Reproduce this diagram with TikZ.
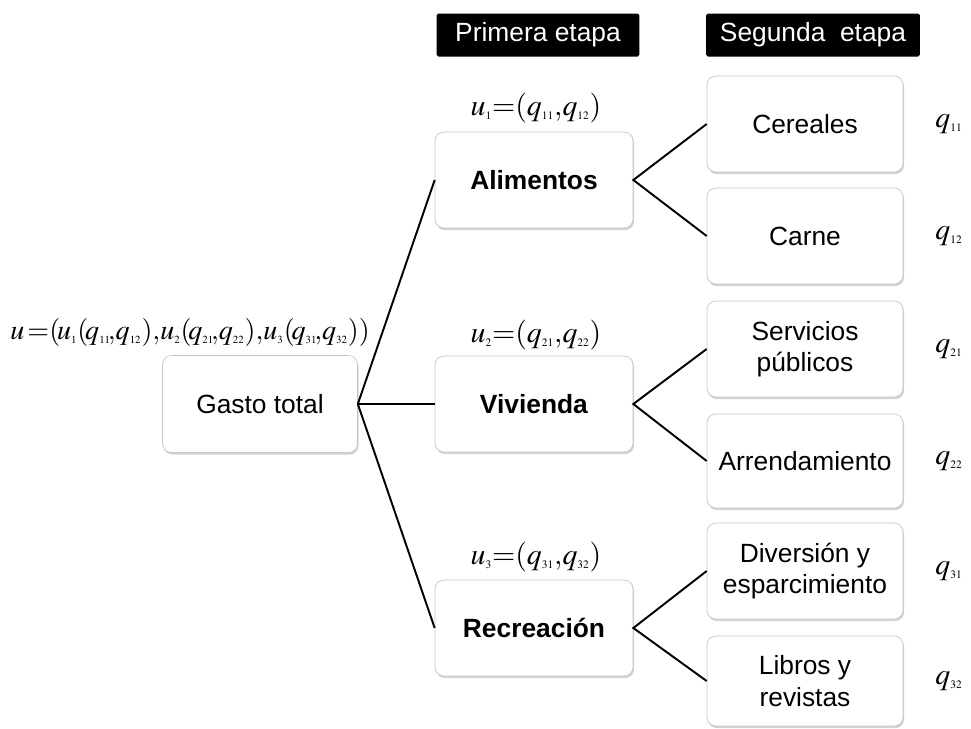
\documentclass[tikz,border=0pt]{standalone}
\usepackage{mathptmx}
\usepackage[no-math]{fontspec}
\setmainfont{Liberation Sans}
\usetikzlibrary{shadows}

\DeclareMathSizes{17}{17}{8}{6.5}
\DeclareMathSizes{16}{16}{7.5}{6.2}
\newcommand{\sub}[1]{_{\scriptscriptstyle #1}}
\newcommand{\lp}{(\!}

\begin{document}
\begin{tikzpicture}[x=0.02cm, y=-0.02cm,
    box/.style={draw=gray!45, rounded corners=5pt, fill=white, align=center,
        inner sep=0pt, font=\fontsize{15}{18}\selectfont,
        drop shadow={shadow xshift=0.6pt, shadow yshift=-1.2pt, opacity=0.35}},
    mainbox/.style={box, minimum width=3.96cm, minimum height=1.92cm},
    leafbox/.style={box, minimum width=3.92cm, minimum height=1.92cm},
    stagebox/.style={fill=black, text=white, rounded corners=1pt, inner sep=0pt,
        minimum height=0.86cm, font=\fontsize{15}{18}\selectfont},
    eq/.style={font=\fontsize{17}{20}\selectfont, inner sep=1pt},
    link/.style={line width=1.1pt, black}]
\useasboundingbox (0,0) rectangle (971,728);

% etapas
\node[stagebox, minimum width=4.06cm] (prim) at (538,35) {Primera etapa};
\node[stagebox, minimum width=4.28cm] (seg) at (813,35) {Segunda\ \ etapa};

% gasto total
\node[box, minimum width=3.9cm, minimum height=1.94cm] (gasto) at (260,404) {Gasto total};
\node[eq, font=\fontsize{16}{19}\selectfont] (u) at (190,332)
    {$u\,{=}\lp u\sub1\lp q\sub{11}\!{,}q\sub{12}){,}u\sub2\lp q\sub{21}\!{,}q\sub{22}){,}u\sub3\lp q\sub{31}\!{,}q\sub{32}))$};

% primera etapa
\node[mainbox] (alim) at (534,180) {\textbf{Alimentos}};
\node[mainbox] (viv) at (534,404) {\textbf{Vivienda}};
\node[mainbox] (recr) at (534,628) {\textbf{Recreación}};
\node[eq] (u1) at (536,108) {$u\sub1{=}(q\sub{11}{,}q\sub{12})$};
\node[eq] (u2) at (536,335) {$u\sub2{=}(q\sub{21}{,}q\sub{22})$};
\node[eq] (u3) at (536,557) {$u\sub3{=}(q\sub{31}{,}q\sub{32})$};

% segunda etapa
\node[leafbox] (cer) at (805,124) {Cereales};
\node[leafbox] (carne) at (805,236) {Carne};
\node[leafbox] (serv) at (805,349) {Servicios\\públicos};
\node[leafbox, minimum height=1.88cm] (arr) at (805,461) {Arrendamiento};
\node[leafbox] (div) at (805,571) {Diversión y\\esparcimiento};
\node[leafbox, minimum height=1.8cm] (lib) at (805,681) {Libros y\\revistas};

\foreach \n/\y/\s in {q11/124/11, q12/236/12, q21/349/21, q22/461/22, q31/571/31, q32/681/32}
{
    \node[eq] (\n) at (949,\y) {$q\sub{\s}$};
}

% conectores
\foreach \c in {alim,viv,recr}
    \draw[link] (gasto.east) -- (\c.west);
\draw[link] (cer.west) -- (alim.east) -- (carne.west);
\draw[link] (serv.west) -- (viv.east) -- (arr.west);
\draw[link] (div.west) -- (recr.east) -- (lib.west);
\end{tikzpicture}
\end{document}
